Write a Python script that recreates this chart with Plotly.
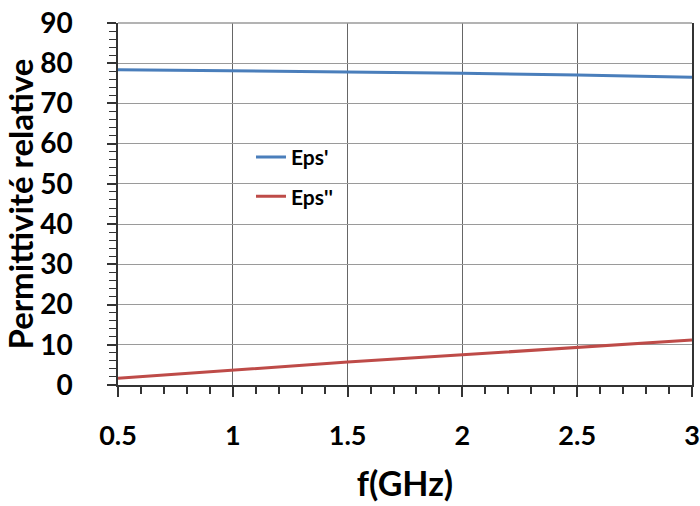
import plotly.graph_objects as go

freq = [0.5, 1.0, 1.5, 2.0, 2.5, 3.0]
eps_real = [78.4, 78.1, 77.9, 77.5, 77.1, 76.5]
eps_imag = [1.7, 3.7, 5.7, 7.5, 9.4, 11.2]

x_ticks = [0.5, 1, 1.5, 2, 2.5, 3]
x_labels = ["0.5", "1", "1.5", "2", "2.5", "3"]
y_ticks = [0, 10, 20, 30, 40, 50, 60, 70, 80, 90]

FONT = "Lato, 'Open Sans', Arial, sans-serif"

fig = go.Figure()
fig.add_trace(go.Scatter(x=freq, y=eps_real, mode="lines", name="Eps'", legendgroup="a",
                         line=dict(color="#4A7EBB", width=3)))
fig.add_trace(go.Scatter(x=freq, y=eps_imag, mode="lines", name="Eps''", legendgroup="b",
                         line=dict(color="#BE4B48", width=3)))

fig.update_layout(
    width=700, height=506,
    margin=dict(l=118, r=8, t=23, b=121),
    paper_bgcolor="white", plot_bgcolor="white",
    font=dict(family=FONT, color="black"),
    showlegend=True,
    legend=dict(x=0.2317, y=0.575, xanchor="left", yanchor="middle",
                bgcolor="rgba(0,0,0,0)", borderwidth=0,
                font=dict(size=21, family=FONT, weight="bold"),
                itemwidth=30, tracegroupgap=9),
    shapes=[dict(type="line", xref="paper", yref="paper", x0=0, x1=1, y0=1, y1=1,
                 line=dict(color="#9a9a9a", width=1.5), layer="above")],
)

fig.update_xaxes(
    range=[0.5, 3], tickvals=x_ticks, ticktext=x_labels, automargin=False,
    ticklabeloverflow="allow",
    showgrid=True, gridcolor="#666666", gridwidth=1,
    showline=True, linecolor="#333333", linewidth=1.5, mirror=False,
    ticks="outside", ticklen=10, tickcolor="#333333", tickwidth=1.5,
    ticklabelstandoff=16,
    tickfont=dict(size=27, family=FONT, weight="bold"),
    minor=dict(dtick=0.1, ticks="outside", ticklen=7, tickcolor="#333333", tickwidth=1.5, showgrid=False),
    title=dict(text="f(GHz)", font=dict(size=34, family=FONT, weight="bold"), standoff=22),
    zeroline=False,
)
fig.update_yaxes(
    range=[0, 90], tickvals=y_ticks, automargin=False,
    ticklabeloverflow="allow",
    showgrid=True, gridcolor="#9a9a9a", gridwidth=1,
    showline=True, linecolor="#333333", linewidth=1.5, mirror=True,
    ticks="outside", ticklen=9, tickcolor="#333333", tickwidth=1.5,
    ticklabelstandoff=29,
    tickfont=dict(size=28, family=FONT, weight="bold"),
    minor=dict(dtick=2, ticks="outside", ticklen=7, tickcolor="#333333", tickwidth=1.2, showgrid=False),
    title=dict(text="Permittivité relative", font=dict(size=33, family=FONT, weight="bold"), standoff=4),
    zeroline=False,
)

fig.write_html(
    "out.html",
    config={"displayModeBar": False},
    post_script="document.body.style.margin='0';document.body.style.overflow='hidden';",
)
